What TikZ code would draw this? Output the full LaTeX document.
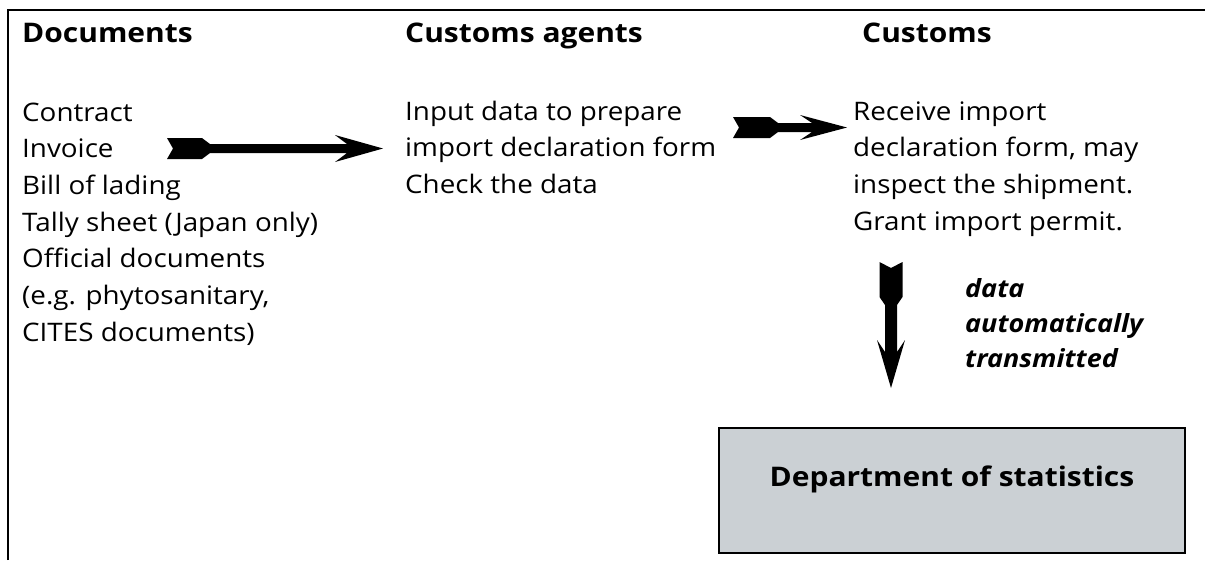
\documentclass[tikz,border=0pt]{standalone}
\usepackage{fontspec}
\setmainfont{Open Sans}[FakeStretch=1.09]
\newfontfamily\hdfont{Open Sans}[FakeStretch=1.11]
\newfontfamily\notefont{Open Sans}[FakeStretch=1.08]
\usetikzlibrary{calc}
\definecolor{boxgray}{HTML}{CBD0D4}
\newcommand\fletcharrow[7]{% A, B, fletch half, fletch length, shaft half, head half, head length
  \fill[black]
    ($(#1)!6pt!(#2)$)
    -- ($(#1)!#3pt!90:(#2)$)
    -- ($(#1)!#4pt!(#2)!#3pt!90:(#2)$)
    -- ($(#1)!#4pt+8pt!(#2)!#5pt!90:(#2)$)
    -- ($(#2)!#7pt-12pt!(#1)!#5pt!-90:(#1)$)
    -- ($(#2)!#7pt!(#1)!#6pt!-90:(#1)$)
    -- (#2)
    -- ($(#2)!#7pt!(#1)!#6pt!90:(#1)$)
    -- ($(#2)!#7pt-12pt!(#1)!#5pt!90:(#1)$)
    -- ($(#1)!#4pt+8pt!(#2)!#5pt!-90:(#2)$)
    -- ($(#1)!#4pt!(#2)!#3pt!-90:(#2)$)
    -- ($(#1)!#3pt!-90:(#2)$)
    -- cycle;}
\tikzset{
  head/.style={anchor=base west, inner sep=0pt, font=\hdfont\fontsize{27}{28}\selectfont\bfseries},
  body/.style={anchor=base west, inner sep=0pt, align=left, font=\fontsize{25.5}{36.7}\selectfont},
  note/.style={anchor=base west, inner sep=0pt, align=left, font=\notefont\fontsize{25}{35}\selectfont\bfseries\itshape},
  frame/.style={line width=2pt, draw=black},
}
\begin{document}
\begin{tikzpicture}[x=1pt, y=-1pt]
\useasboundingbox (0,0) rectangle (1205,560);
\coordinate (fbl) at (8,560);
\coordinate (ftl) at (8,10);
\coordinate (ftr) at (1205,10);
\draw[frame] (fbl) -- (ftl) -- (ftr);

% anchors at the baseline of each node's last line
\node[head] (hdoc) at (22,42) {Documents};
\node[head] (hagt) at (405,42) {Customs agents};
\node[head] (hcus) at (862,42) {Customs};

\node[body] (docs) at (22,341.2) {Contract\\Invoice\\Bill of lading\\Tally sheet (Japan only)\\Official documents\\(e.g. phytosanitary,\\CITES documents)};
\node[body] (agt) at (405,193.4) {Input data to prepare\\import declaration form\\Check the data};
\node[body] (cus) at (853,230.1) {Receive import\\declaration form, may\\inspect the shipment.\\Grant import permit.};

\node[note] (auto) at (965,367) {data\\automatically\\transmitted};

\node[draw=black, line width=2pt, fill=boxgray, anchor=north, minimum width=466pt,
      inner xsep=0pt, inner ysep=0pt, text height=58pt, text depth=67pt,
      font=\hdfont\fontsize{27}{28}\selectfont\bfseries] (dept) at (952,427) {Department of statistics};

\coordinate (a1s) at (167,148.5);
\coordinate (a1e) at (383,148.5);
\coordinate (a2s) at (733,127.5);
\coordinate (a2e) at (847,127.5);
\coordinate (a3s) at (891,262);
\coordinate (a3e) at (891,388);
\fletcharrow{a1s}{a1e}{10.5}{35}{4.5}{13.5}{48}
\fletcharrow{a2s}{a2e}{10.5}{37}{4.5}{12.5}{47}
\fletcharrow{a3s}{a3e}{11.5}{35}{6}{14}{48}
\end{tikzpicture}
\end{document}
